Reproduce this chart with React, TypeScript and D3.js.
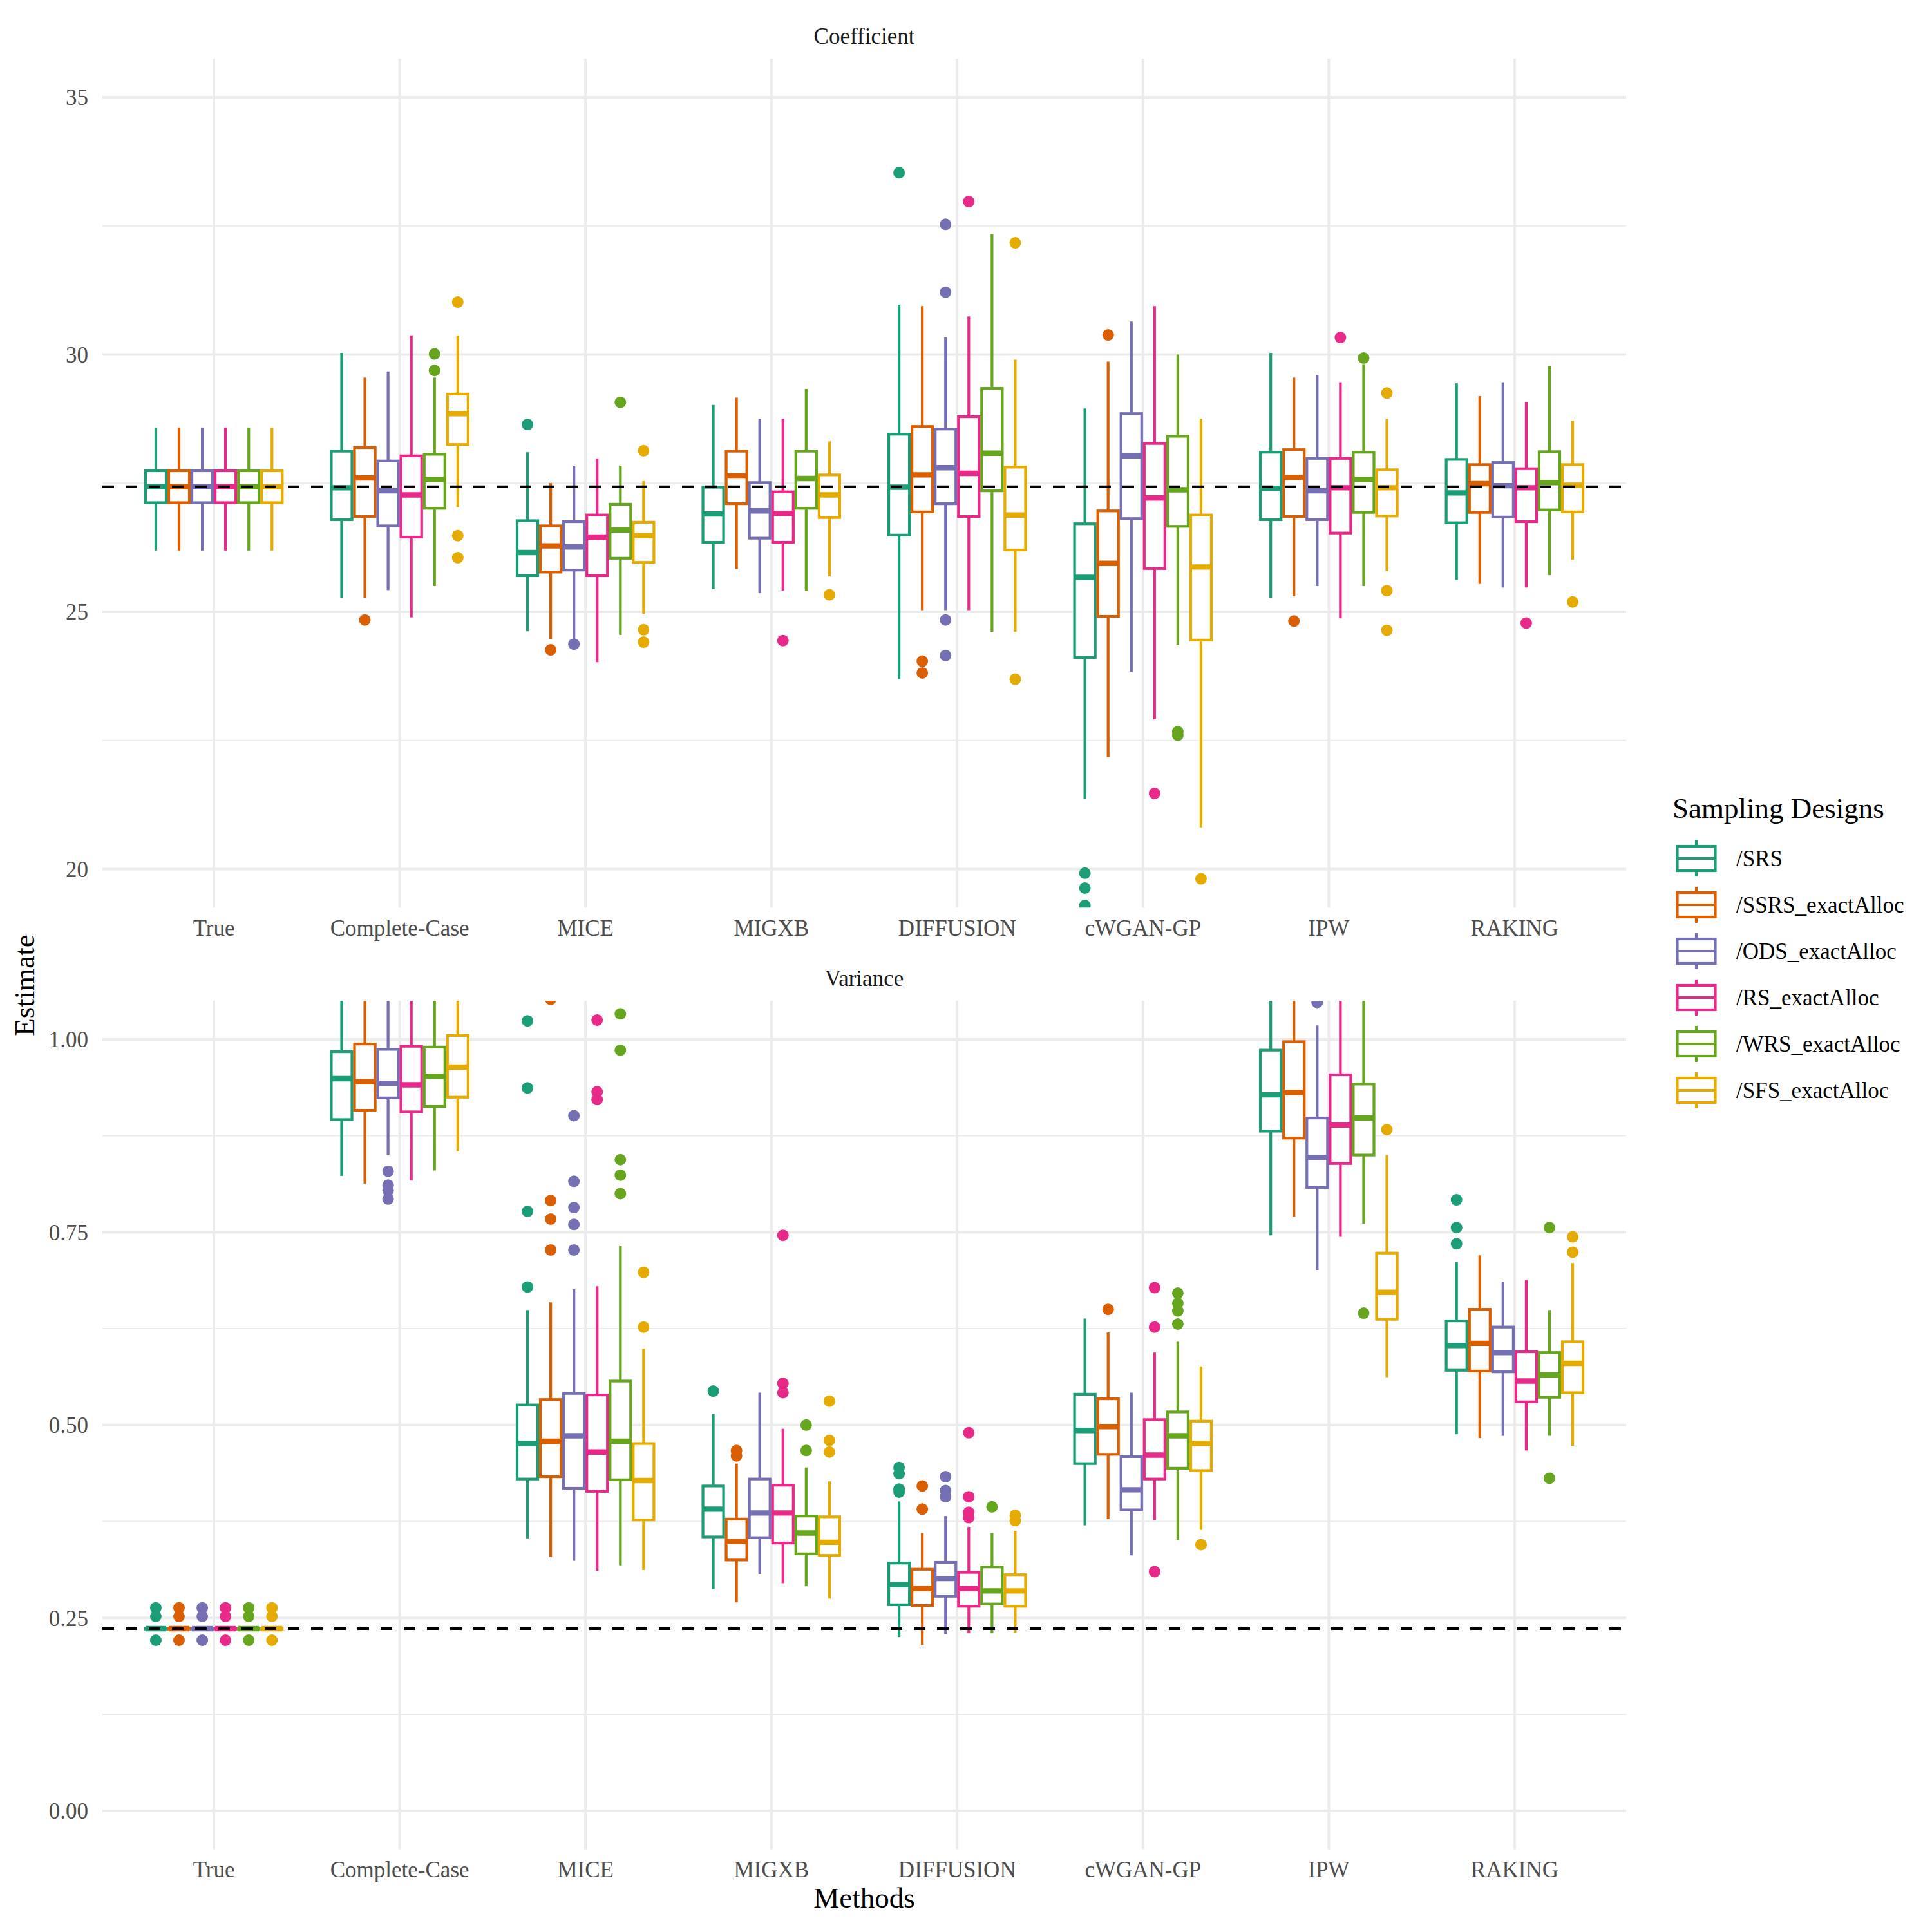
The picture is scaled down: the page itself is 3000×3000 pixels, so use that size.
import React from "react";
import * as d3 from "d3";

const methods = ["True", "Complete-Case", "MICE", "MIGXB", "DIFFUSION", "cWGAN-GP", "IPW", "RAKING"];
const designs = ["/SRS", "/SSRS_exactAlloc", "/ODS_exactAlloc", "/RS_exactAlloc", "/WRS_exactAlloc", "/SFS_exactAlloc"];
const colors = ["#1B9E77", "#D95F02", "#7570B3", "#E7298A", "#66A61E", "#E6AB02"];

// Coefficient panel, rows = methods, columns = designs
const coefLower = [
  [26.19, 26.19, 26.19, 26.19, 26.19, 26.19],
  [25.27, 25.27, 25.42, 24.89, 25.5, 27.03],
  [24.62, 24.47, 24.47, 24.02, 24.55, 24.96],
  [25.44, 25.83, 25.36, 25.41, 25.41, 25.69],
  [23.69, 25.03, 25.03, 25.03, 24.61, 24.61],
  [21.37, 22.17, 23.83, 22.91, 24.36, 20.81],
  [25.27, 25.3, 25.5, 24.87, 25.5, 25.79],
  [25.62, 25.54, 25.47, 25.47, 25.71, 26.01],
];
const coefQ1 = [
  [27.12, 27.12, 27.12, 27.12, 27.12, 27.12],
  [26.79, 26.85, 26.67, 26.45, 27.01, 28.25],
  [25.7, 25.77, 25.81, 25.7, 26.04, 25.96],
  [26.35, 27.1, 26.43, 26.35, 27.01, 26.83],
  [26.49, 26.94, 27.1, 26.85, 27.35, 26.2],
  [24.11, 24.91, 26.81, 25.84, 26.66, 24.45],
  [26.79, 26.85, 26.79, 26.53, 26.93, 26.86],
  [26.73, 26.93, 26.84, 26.75, 26.98, 26.94],
];
const coefMedian = [
  [27.43, 27.43, 27.43, 27.43, 27.43, 27.43],
  [27.41, 27.6, 27.35, 27.27, 27.57, 28.85],
  [26.15, 26.28, 26.26, 26.45, 26.59, 26.48],
  [26.9, 27.64, 26.96, 26.91, 27.59, 27.27],
  [27.42, 27.66, 27.8, 27.69, 28.08, 26.88],
  [25.67, 25.94, 28.03, 27.21, 27.37, 25.87],
  [27.4, 27.61, 27.35, 27.41, 27.57, 27.41],
  [27.31, 27.49, 27.45, 27.41, 27.51, 27.46],
];
const coefQ3 = [
  [27.74, 27.74, 27.74, 27.74, 27.74, 27.74],
  [28.12, 28.19, 27.93, 28.03, 28.06, 29.23],
  [26.77, 26.67, 26.75, 26.88, 27.09, 26.74],
  [27.42, 28.12, 27.51, 27.33, 28.12, 27.66],
  [28.45, 28.6, 28.55, 28.79, 29.34, 27.81],
  [26.71, 26.96, 28.85, 28.27, 28.41, 26.88],
  [28.1, 28.15, 27.98, 27.98, 28.1, 27.76],
  [27.96, 27.86, 27.9, 27.78, 28.11, 27.86],
];
const coefUpper = [
  [28.58, 28.58, 28.58, 28.58, 28.58, 28.58],
  [30.03, 29.55, 29.67, 30.37, 29.55, 30.37],
  [28.1, 27.5, 27.84, 27.98, 27.84, 27.54],
  [29.02, 29.16, 28.75, 28.75, 29.33, 28.31],
  [30.97, 30.94, 30.33, 30.74, 32.34, 29.9],
  [28.95, 29.86, 30.64, 30.94, 30.0, 28.75],
  [30.03, 29.55, 29.6, 29.46, 29.81, 28.75],
  [29.44, 29.19, 29.46, 29.08, 29.77, 28.71],
];
const coefOutliers = [
  [[], [], [], [], [], []],
  [[], [24.84], [], [], [30.01, 29.69], [31.02, 26.48, 26.05]],
  [[28.64], [24.26], [24.37], [], [29.07], [28.13, 24.65, 24.41]],
  [[], [], [], [24.44], [], [25.33]],
  [[33.53], [24.04, 23.81], [32.53, 31.21, 24.84, 24.15], [32.97], [], [32.17, 23.69]],
  [[19.92, 19.63, 19.29], [30.38], [], [21.47], [22.67, 22.6], [19.81]],
  [[], [24.82], [], [30.33], [29.93], [29.25, 25.41, 24.64]],
  [[], [], [], [24.78], [], [25.19]],
];
const coefTrue = 27.43;

// Variance panel
const varLower = [
  [0.2355, 0.2355, 0.2355, 0.2355, 0.2355, 0.2355],
  [0.823, 0.813, 0.85, 0.817, 0.83, 0.855],
  [0.353, 0.329, 0.324, 0.311, 0.318, 0.312],
  [0.287, 0.27, 0.307, 0.295, 0.291, 0.275],
  [0.225, 0.215, 0.229, 0.23, 0.23, 0.231],
  [0.37, 0.378, 0.331, 0.377, 0.351, 0.364],
  [0.746, 0.77, 0.701, 0.744, 0.761, 0.562],
  [0.488, 0.483, 0.486, 0.467, 0.486, 0.473],
];
const varQ1 = [
  [0.2355, 0.2355, 0.2355, 0.2355, 0.2355, 0.2355],
  [0.896, 0.908, 0.924, 0.906, 0.913, 0.925],
  [0.43, 0.433, 0.418, 0.414, 0.429, 0.377],
  [0.355, 0.325, 0.354, 0.347, 0.333, 0.331],
  [0.267, 0.266, 0.278, 0.265, 0.268, 0.265],
  [0.45, 0.462, 0.39, 0.43, 0.444, 0.441],
  [0.881, 0.872, 0.808, 0.839, 0.85, 0.637],
  [0.571, 0.57, 0.569, 0.53, 0.536, 0.542],
];
const varMedian = [
  [0.236, 0.236, 0.236, 0.236, 0.236, 0.236],
  [0.949, 0.945, 0.943, 0.941, 0.952, 0.964],
  [0.476, 0.479, 0.486, 0.465, 0.479, 0.428],
  [0.391, 0.349, 0.386, 0.386, 0.36, 0.348],
  [0.293, 0.288, 0.301, 0.288, 0.285, 0.285],
  [0.493, 0.498, 0.416, 0.461, 0.486, 0.476],
  [0.928, 0.931, 0.847, 0.889, 0.898, 0.672],
  [0.603, 0.606, 0.594, 0.557, 0.565, 0.58],
];
const varQ3 = [
  [0.2365, 0.2365, 0.2365, 0.2365, 0.2365, 0.2365],
  [0.984, 0.994, 0.987, 0.991, 0.99, 1.005],
  [0.526, 0.533, 0.541, 0.539, 0.557, 0.476],
  [0.421, 0.378, 0.43, 0.422, 0.382, 0.381],
  [0.321, 0.313, 0.322, 0.309, 0.316, 0.306],
  [0.54, 0.534, 0.459, 0.507, 0.517, 0.505],
  [0.986, 0.997, 0.898, 0.954, 0.942, 0.723],
  [0.635, 0.65, 0.627, 0.595, 0.594, 0.608],
];
const varUpper = [
  [0.2365, 0.2365, 0.2365, 0.2365, 0.2365, 0.2365],
  [1.12, 1.14, 1.1, 1.13, 1.11, 1.12],
  [0.649, 0.659, 0.676, 0.68, 0.732, 0.599],
  [0.514, 0.45, 0.542, 0.495, 0.445, 0.427],
  [0.401, 0.36, 0.382, 0.368, 0.36, 0.363],
  [0.638, 0.62, 0.542, 0.594, 0.608, 0.576],
  [1.1, 1.13, 1.018, 1.08, 1.09, 0.85],
  [0.711, 0.72, 0.686, 0.688, 0.649, 0.71],
];
const varOutliers = [
  [[0.263, 0.252, 0.221], [0.263, 0.252, 0.221], [0.263, 0.252, 0.221], [0.263, 0.252, 0.221], [0.263, 0.252, 0.221], [0.263, 0.252, 0.221]],
  [[], [], [0.829, 0.811, 0.804, 0.793], [], [], []],
  [[1.024, 0.937, 0.777, 0.679], [1.052, 0.791, 0.767, 0.727], [0.901, 0.816, 0.782, 0.76, 0.727], [1.025, 0.932, 0.922], [1.033, 0.986, 0.844, 0.824, 0.8], [0.698, 0.627]],
  [[0.544], [0.467, 0.46], [], [0.746, 0.554, 0.542], [0.5, 0.467], [0.531, 0.48, 0.465]],
  [[0.445, 0.437, 0.417, 0.413], [0.421, 0.391], [0.433, 0.415, 0.407], [0.49, 0.407, 0.387, 0.38], [0.394], [0.383, 0.376]],
  [[], [0.65], [], [0.678, 0.627, 0.31], [0.671, 0.658, 0.648, 0.631], [0.345]],
  [[], [], [1.048], [], [0.645], [0.883]],
  [[0.792, 0.756, 0.735], [], [], [], [0.756, 0.431], [0.744, 0.724]],
];
const varTrue = 0.236;

const coefTicks = [20, 25, 30, 35];
const coefMinor = [22.5, 27.5, 32.5];
const varTicks = [0, 0.25, 0.5, 0.75, 1.0];
const varMinor = [0.125, 0.375, 0.625, 0.875];

const FONT = "'Liberation Serif', 'Times New Roman', serif";
const GRID = "#EBEBEB";
const LEFT = 159;
const RIGHT = 2525;

const x = d3.scaleBand().domain(methods).range([LEFT, RIGHT]).paddingInner(0).paddingOuter(0.1);
const sub = d3
  .scaleBand()
  .domain(designs)
  .range([-0.375 * x.step(), 0.375 * x.step()]);

function Panel(props) {
  const { id, title, y, major, minor, fmt, lower, q1, med, q3, upper, outliers, truth, stripY, labelY } = props;
  const [bottom, top] = y.range();
  const bw = sub.bandwidth();
  return (
    <g>
      <text x={(LEFT + RIGHT) / 2} y={stripY} textAnchor="middle" fontSize={35} fill="#1A1A1A" fontFamily={FONT}>
        {title}
      </text>
      <clipPath id={id}>
        <rect x={LEFT} y={top} width={RIGHT - LEFT} height={bottom - top} />
      </clipPath>
      {minor.map((v) => (
        <line key={"mi" + v} x1={LEFT} x2={RIGHT} y1={y(v)} y2={y(v)} stroke={GRID} strokeWidth={2} />
      ))}
      {major.map((v) => (
        <line key={"ma" + v} x1={LEFT} x2={RIGHT} y1={y(v)} y2={y(v)} stroke={GRID} strokeWidth={4} />
      ))}
      {methods.map((m) => {
        const cx = x(m) + x.bandwidth() / 2;
        return <line key={"v" + m} x1={cx} x2={cx} y1={top} y2={bottom} stroke={GRID} strokeWidth={4} />;
      })}
      <g clipPath={`url(#${id})`}>
        {methods.map((m, i) =>
          designs.map((d, j) => {
            const cx = x(m) + x.bandwidth() / 2 + sub(d) + bw / 2;
            const col = colors[j];
            const x0 = cx - bw / 2 + 2;
            const w = bw - 4;
            return (
              <g key={m + d}>
                {outliers[i][j].map((o, k) => (
                  <circle key={k} cx={cx} cy={y(o)} r={9} fill={col} />
                ))}
                <line x1={cx} x2={cx} y1={y(upper[i][j])} y2={y(q3[i][j])} stroke={col} strokeWidth={4.2} />
                <line x1={cx} x2={cx} y1={y(q1[i][j])} y2={y(lower[i][j])} stroke={col} strokeWidth={4.2} />
                <rect
                  x={x0}
                  y={y(q3[i][j])}
                  width={w}
                  height={Math.max(0.5, y(q1[i][j]) - y(q3[i][j]))}
                  fill="#FFFFFF"
                  stroke={col}
                  strokeWidth={4.2}
                />
                <line x1={x0} x2={x0 + w} y1={y(med[i][j])} y2={y(med[i][j])} stroke={col} strokeWidth={8.4} />
              </g>
            );
          })
        )}
        <line x1={LEFT} x2={RIGHT} y1={y(truth)} y2={y(truth)} stroke="#000" strokeWidth={4.2} strokeDasharray="18 18" />
      </g>
      {major.map((v) => (
        <text key={"t" + v} x={137} y={y(v)} dy="0.35em" textAnchor="end" fontSize={35} fill="#4D4D4D" fontFamily={FONT}>
          {fmt(v)}
        </text>
      ))}
      {methods.map((m) => (
        <text key={"xl" + m} x={x(m) + x.bandwidth() / 2} y={labelY} textAnchor="middle" fontSize={35} fill="#4D4D4D" fontFamily={FONT}>
          {m}
        </text>
      ))}
    </g>
  );
}

export default function App() {
  const yCoef = d3.scaleLinear().domain([19.25, 35.75]).range([1409.3, 91]);
  const yVar = d3.scaleLinear().domain([-0.05, 1.05]).range([2871.6, 1554]);
  const legendY = d3.scaleBand().domain(designs).range([1297, 1297 + 6 * 72]);

  return (
    <svg width={3000} height={3000} style={{ position: "absolute", left: 0, top: 0, background: "#fff" }}>
      <rect width={3000} height={3000} fill="#fff" />
      <Panel
        id="clip-coef"
        title="Coefficient"
        y={yCoef}
        major={coefTicks}
        minor={coefMinor}
        fmt={(v) => d3.format("d")(v)}
        lower={coefLower}
        q1={coefQ1}
        med={coefMedian}
        q3={coefQ3}
        upper={coefUpper}
        outliers={coefOutliers}
        truth={coefTrue}
        stripY={68}
        labelY={1453}
      />
      <Panel
        id="clip-var"
        title="Variance"
        y={yVar}
        major={varTicks}
        minor={varMinor}
        fmt={(v) => d3.format(".2f")(v)}
        lower={varLower}
        q1={varQ1}
        med={varMedian}
        q3={varQ3}
        upper={varUpper}
        outliers={varOutliers}
        truth={varTrue}
        stripY={1531}
        labelY={2915}
      />
      <text x={1342} y={2962} textAnchor="middle" fontSize={45} fill="#000" fontFamily={FONT}>
        Methods
      </text>
      <text transform="translate(53,1530) rotate(-90)" textAnchor="middle" fontSize={45} fill="#000" fontFamily={FONT}>
        Estimate
      </text>
      <text x={2597} y={1270} fontSize={45} fill="#000" fontFamily={FONT}>
        Sampling Designs
      </text>
      {designs.map((d, j) => {
        const cy = legendY(d) + legendY.bandwidth() / 2;
        const col = colors[j];
        return (
          <g key={"lg" + d}>
            <line x1={2634} x2={2634} y1={cy - 28} y2={cy + 28} stroke={col} strokeWidth={4.2} />
            <rect x={2604.5} y={cy - 19} width={59} height={38} fill="#fff" stroke={col} strokeWidth={4.2} />
            <line x1={2604.5} x2={2663.5} y1={cy} y2={cy} stroke={col} strokeWidth={4.2} />
            <text x={2696} y={cy} dy="0.35em" fontSize={35} fill="#000" fontFamily={FONT}>
              {d}
            </text>
          </g>
        );
      })}
    </svg>
  );
}
